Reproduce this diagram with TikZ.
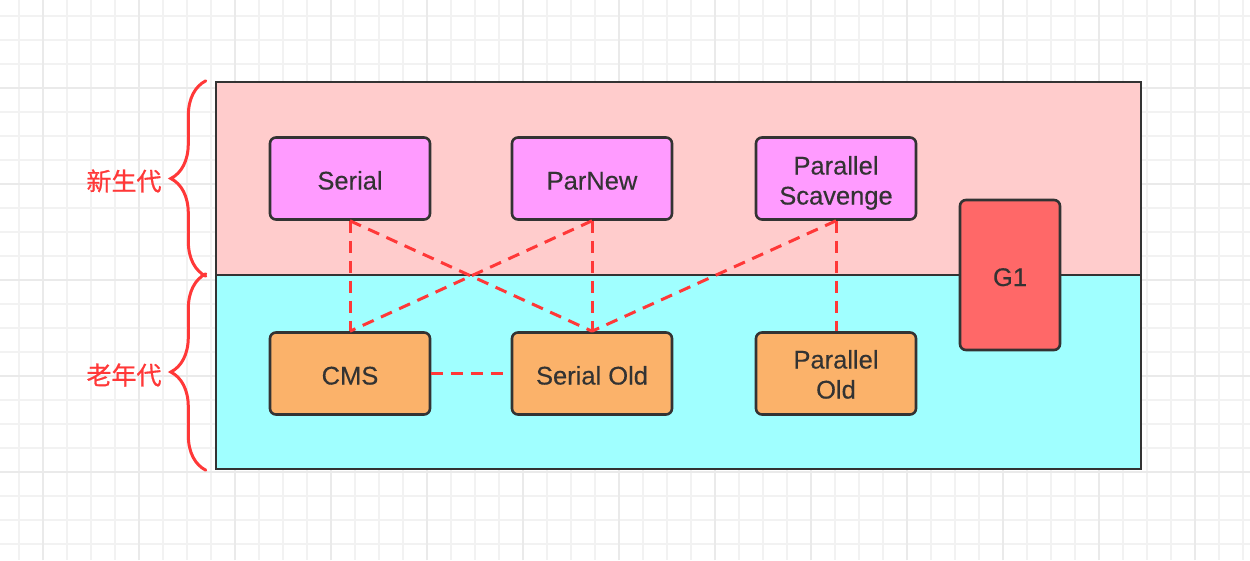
\documentclass[tikz,border=0pt]{standalone}
\usepackage{fontspec}
\setmainfont{Liberation Sans}[FakeBold=0.3]
\newfontfamily\cjkfont{Noto Sans CJK SC}[FakeBold=0.8]
\usetikzlibrary{decorations.pathreplacing}

\definecolor{grid-minor}{HTML}{F2F2F2}
\definecolor{grid-major}{HTML}{EAEAEA}
\definecolor{gen-line}{HTML}{333333}
\definecolor{gen-young}{HTML}{FFCCCC}
\definecolor{gen-old}{HTML}{A0FFFF}
\definecolor{gc-young}{HTML}{FF9BFF}
\definecolor{gc-old}{HTML}{FBB26A}
\definecolor{gc-g1}{HTML}{FF6868}
\definecolor{gc-link}{HTML}{FF3838}

\tikzstyle{gen-area}=[draw=gen-line, line width=2.4pt, inner sep=0pt]
\tikzstyle{gc-box}=[draw=gen-line, line width=2.6pt, rounded corners=6pt, text=gen-line,
      minimum width=160pt, minimum height=82pt, align=center,
      text height=22pt, text depth=0pt, font=\fontsize{25.5}{30}\selectfont]
\tikzstyle{gc-link}=[draw=gc-link, line width=3pt, dash pattern=on 12pt off 8pt]
\tikzstyle{gen-brace}=[draw=gc-link, line width=3pt, line cap=round,
      decorate, decoration={brace, amplitude=35pt}]
\tikzstyle{gen-label}=[text=gc-link, font=\cjkfont\fontsize{25}{28}\selectfont]

\begin{document}
\begin{tikzpicture}[x=1pt, y=-1pt]
      \useasboundingbox (0, 0) rectangle (1250, 560);
      \fill[white] (0, 0) rectangle (1250, 560);
      \draw[grid-minor, line width=2pt, step=24pt, shift={(19, 16)}]
            (-19, -16) grid (1231, 544);
      \draw[grid-major, line width=2pt, step=96pt, shift={(43, 88)}]
            (-43, -88) grid (1207, 472);

      \node (young) at (678.5, 178.5)
            [gen-area, fill=gen-young, minimum width=925pt, minimum height=193pt] {};
      \node (old) at (678.5, 372)
            [gen-area, fill=gen-old, minimum width=925pt, minimum height=194pt] {};

      \draw[gen-brace] ([xshift=-9pt]young.south west) -- ([xshift=-9pt]young.north west);
      \draw[gen-brace] ([xshift=-9pt]old.south west) -- ([xshift=-9pt]old.north west);
      \node (young-label) at (124, 181) [gen-label] {新生代};
      \node (old-label) at (124, 375) [gen-label] {老年代};

      \node (serial) at (350, 178.5) [gc-box, fill=gc-young] {Serial};
      \node (parnew) at (592, 178.5) [gc-box, fill=gc-young] {ParNew};
      \node (pscavenge) at (836, 178.5)
            [gc-box, fill=gc-young, text height=52pt] {Parallel\\Scavenge};

      \node (cms) at (350, 373.5) [gc-box, fill=gc-old] {CMS};
      \node (serialold) at (592, 373.5) [gc-box, fill=gc-old] {Serial Old};
      \node (parold) at (836, 373.5)
            [gc-box, fill=gc-old, text height=50pt] {Parallel\\Old};

      \node (g1) at (1010, 275)
            [gc-box, fill=gc-g1, minimum width=100pt, minimum height=150pt] {G1};

      \draw[gc-link] (serial.south) -- (cms.north);
      \draw[gc-link] (serial.south) -- (serialold.north);
      \draw[gc-link] (parnew.south) -- (cms.north);
      \draw[gc-link] (parnew.south) -- (serialold.north);
      \draw[gc-link] (pscavenge.south) -- (serialold.north);
      \draw[gc-link] (pscavenge.south) -- (parold.north);
      \draw[gc-link] (cms.east) -- (serialold.west);
    \end{tikzpicture}
\end{document}
